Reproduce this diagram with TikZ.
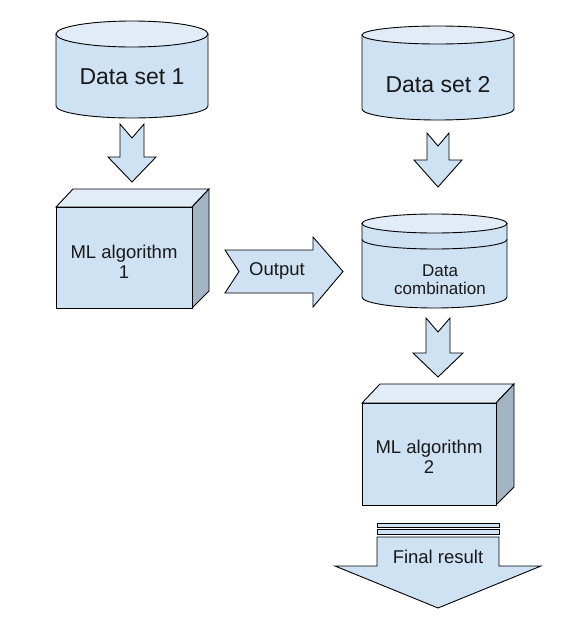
\documentclass[tikz,border=0pt]{standalone}
\usepackage{fontspec}
\setmainfont{Liberation Sans}
\usepackage{tikz}
\usetikzlibrary{positioning,calc}

\definecolor{dbody}{HTML}{CFE2F3}
\definecolor{dtop}{HTML}{E1ECF7}
\definecolor{dside}{HTML}{A3B4C4}

\begin{document}
\begin{tikzpicture}[
    x=1pt, y=-1pt,
    shape line/.style={draw=black, line width=0.9pt, line join=miter},
    body/.style={shape line, fill=dbody},
    topface/.style={shape line, fill=dtop},
    sideface/.style={shape line, fill=dside},
    lbl/.style={align=center, inner sep=0pt, text=black!90},
    big/.style={font=\fontsize{23}{24}\selectfont},
    mid/.style={font=\fontsize{18.5}{20}\selectfont},
    small/.style={font=\fontsize{17}{17.5}\selectfont}
]

\useasboundingbox[fill=white] (0,0) rectangle (575,624);

% Data set 1 (cylinder)
\draw[body] (56,34) -- (56,106) arc[start angle=180, end angle=0, x radius=76, y radius=12] -- (208,34) -- cycle;
\draw[topface] (132,34) ellipse[x radius=76, y radius=13];
\node[lbl, big] (ds1) at (132,77) {Data set 1};

% Data set 2 (cylinder)
\draw[body] (362,35) -- (362,109) arc[start angle=180, end angle=0, x radius=76, y radius=11] -- (514,35) -- cycle;
\draw[topface] (438,35) ellipse[x radius=76, y radius=9];
\node[lbl, big] (ds2) at (438,85) {Data set 2};

% Down arrows
\draw[body] (120,124) -- (132,138) -- (144,124) -- (144,157) -- (156,157) -- (132,182) -- (108,157) -- (120,157) -- cycle;
\draw[body] (427,133) -- (438,146) -- (449,133) -- (449,160) -- (462,160) -- (438,187) -- (414,160) -- (427,160) -- cycle;

% ML algorithm 1 (box)
\draw[topface] (56,207) -- (73,189) -- (209,189) -- (192,207) -- cycle;
\draw[sideface] (192,207) -- (209,189) -- (209,291) -- (192,308) -- cycle;
\draw[body] (56,207) rectangle (192,308);
\node[lbl, mid] (ml1) at (124,261.5) {ML algorithm\\1};

% Output arrow
\draw[body] (225,250) -- (239,271.5) -- (225,293) -- (313,293) -- (313,307) -- (343,271.5) -- (313,237) -- (313,250) -- cycle;
\node[lbl, mid] (out) at (277,271) {Output};

% Data combination (cylinder with band)
\draw[body] (362,223.5) -- (362,297) arc[start angle=180, end angle=0, x radius=72.5, y radius=11] -- (507,223.5) -- cycle;
\draw[shape line] (362,239.5) arc[start angle=180, end angle=0, x radius=72.5, y radius=9.5];
\draw[topface] (434.5,223.5) ellipse[x radius=72.5, y radius=9.5];
\node[lbl, small] (comb) at (440,279.5) {Data\\combination};

% Arrow to ML algorithm 2
\draw[body] (426,318) -- (438,332) -- (450,318) -- (450,353) -- (463,353) -- (438,377) -- (413,353) -- (426,353) -- cycle;

% ML algorithm 2 (box)
\draw[topface] (362,403) -- (380,384) -- (514,384) -- (496,403) -- cycle;
\draw[sideface] (496,403) -- (514,384) -- (514,487) -- (496,505) -- cycle;
\draw[body] (362,403) rectangle (496,505);
\node[lbl, mid] (ml2) at (429,456.5) {ML algorithm\\2};

% Final result (striped arrow)
\draw[body] (377,523) rectangle (499,527);
\draw[body] (377,529.5) rectangle (499,534);
\draw[body] (377,537) -- (499,537) -- (499,566) -- (541,566) -- (438,608) -- (335,566) -- (377,566) -- cycle;
\node[lbl, mid] (res) at (438,557) {Final result};

\end{tikzpicture}
\end{document}
